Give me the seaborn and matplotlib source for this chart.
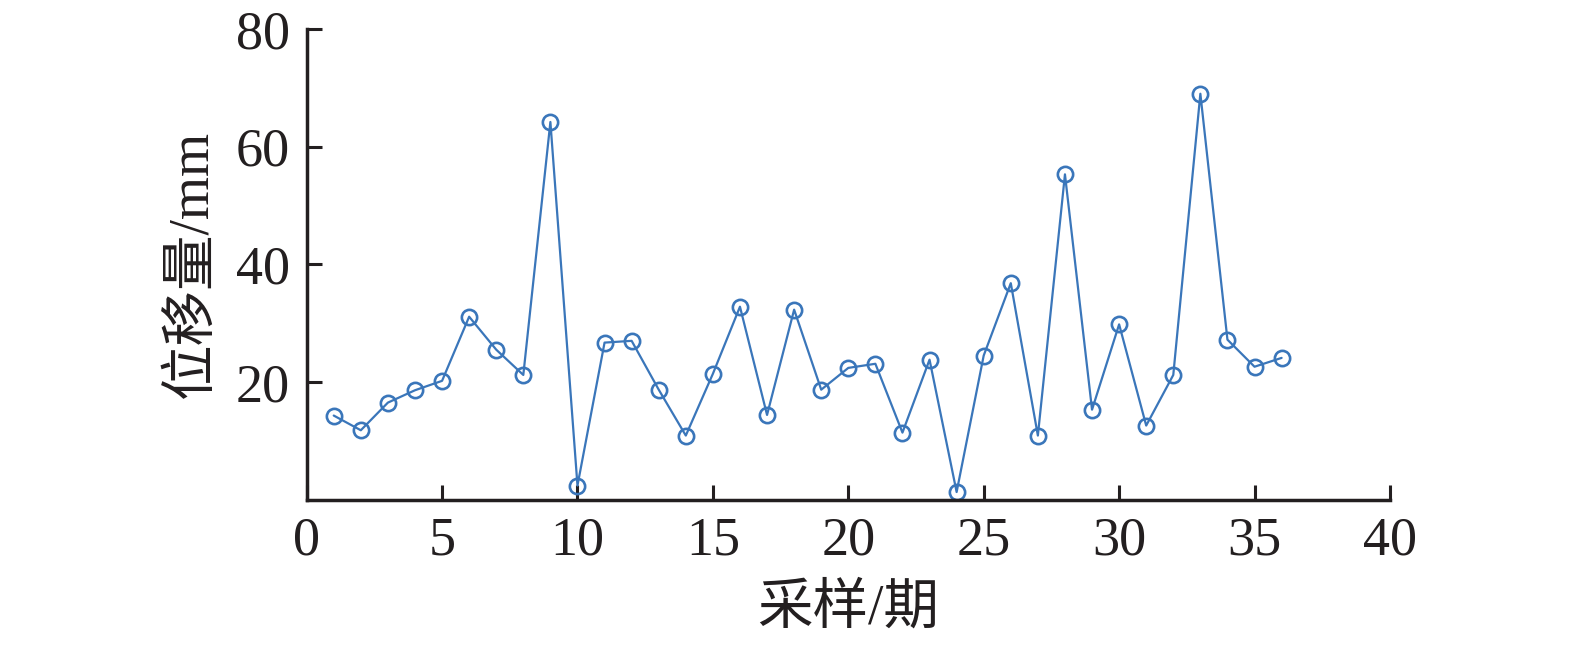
import numpy as np
import pandas as pd
import seaborn as sns
import matplotlib.pyplot as plt

# displacement per sampling period
periods = list(range(1, 37))
displacement = [14.3, 11.8, 16.5, 18.6, 20.2, 31.1, 25.5, 21.2, 64.2, 2.4,
                26.7, 27.0, 18.7, 10.9, 21.4, 32.8, 14.4, 32.3, 18.7, 22.4,
                23.1, 11.4, 23.8, 1.3, 24.5, 36.8, 10.9, 55.3, 15.3, 29.8,
                12.6, 21.2, 69.0, 27.2, 22.6, 24.1]
xticks = [0, 5, 10, 15, 20, 25, 30, 35, 40]
yticks = [20, 40, 60, 80]

sns.set_style('ticks')
plt.rcParams['font.family'] = ['Liberation Serif', 'Noto Sans CJK SC']

df = pd.DataFrame({'period': periods, 'disp': displacement})

fig = plt.figure(figsize=(15.75, 6.45), dpi=100)
ax = fig.add_axes([0.1947, 0.2253, 0.6878, 0.7297])

lineColor = '#3a76ba'
sns.lineplot(data=df, x='period', y='disp', ax=ax, color=lineColor, linewidth=1.6,
             marker='o', markersize=11, markerfacecolor='none',
             markeredgecolor=lineColor, markeredgewidth=1.9)

ax.set_xlim(0, 40)
ax.set_ylim(0, 80)
ax.set_xticks(xticks)
ax.set_yticks(yticks)
ax.tick_params(direction='in', length=11, width=2.2, labelsize=39, pad=12, colors='#231f20')
for side in ['top', 'right']:
	ax.spines[side].set_visible(False)
for side in ['left', 'bottom']:
	ax.spines[side].set_linewidth(2.5)
	ax.spines[side].set_color('#231f20')

ax.set_xlabel('采样/期', fontsize=40, color='#231f20', labelpad=12)
ax.set_ylabel('位移量/mm', fontsize=40, color='#231f20', labelpad=12)

plt.savefig('out.png', dpi=100)
